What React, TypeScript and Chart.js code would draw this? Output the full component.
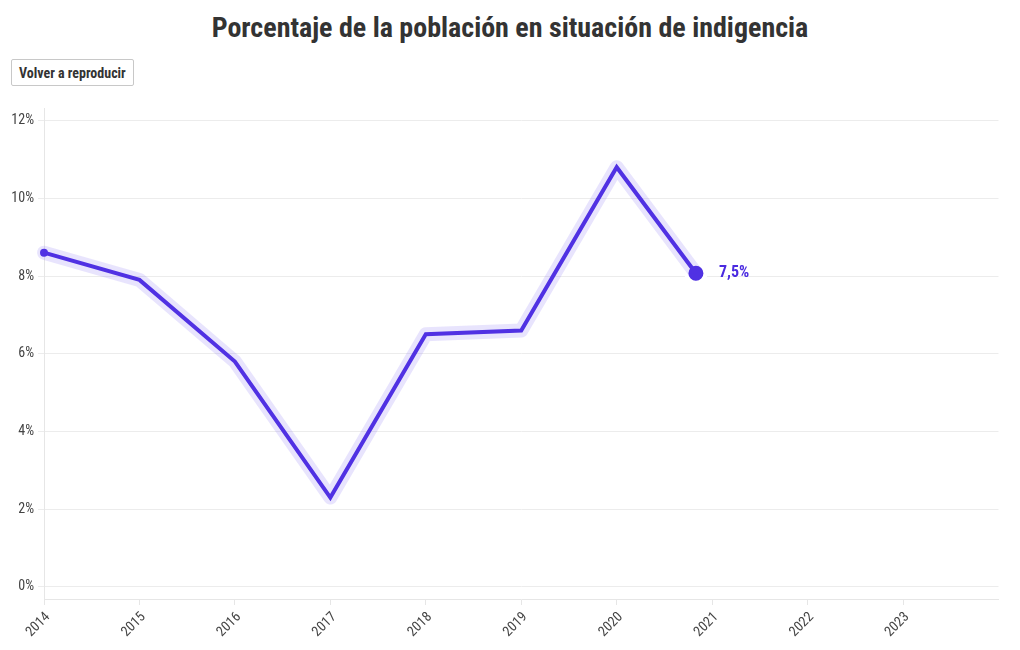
import React, { useEffect, useRef } from "react";
import { Chart, registerables } from "chart.js";

Chart.register(...registerables);

const TITLE = "Porcentaje de la población en situación de indigencia";
const BUTTON_TEXT = "Volver a reproducir";
const years = [2014, 2015, 2016, 2017, 2018, 2019, 2020, 2020.83];
const values = [8.6, 7.9, 5.8, 2.3, 6.5, 6.6, 10.8, 8.07];
const tickYears = [2014, 2015, 2016, 2017, 2018, 2019, 2020, 2021, 2022, 2023];
const yTicks = [0, 2, 4, 6, 8, 10, 12];
const endLabel = "7,5%";

const FONT = '"Roboto Condensed", "Liberation Sans Narrow", "DejaVu Sans Condensed", "Roboto", sans-serif';
const PURPLE = "#4a2ae0";

const endLabelPlugin = {
  id: "endLabel",
  afterDatasetsDraw(chart: any) {
    const meta = chart.getDatasetMeta(2);
    if (!meta || !meta.data.length) return;
    const pt = meta.data[meta.data.length - 1];
    const ctx = chart.ctx;
    ctx.save();
    ctx.font = `bold 16px ${FONT}`;
    ctx.fillStyle = PURPLE;
    ctx.textAlign = "left";
    ctx.textBaseline = "middle";
    ctx.fillText(endLabel, pt.x + 23, pt.y);
    ctx.restore();
  },
};

export default function App() {
  const ref = useRef<HTMLCanvasElement | null>(null);
  useEffect(() => {
    if (!ref.current) return;
    const pts = years.map((x, i) => ({ x, y: values[i] }));
    const last = pts.length - 1;
    const chart = new Chart(ref.current, {
      type: "line",
      data: {
        datasets: [
          {
            data: pts,
            borderColor: "rgba(110,90,240,0.16)",
            borderWidth: 14,
            pointRadius: 0,
            borderJoinStyle: "round",
            borderCapStyle: "round",
            tension: 0,
            clip: false,
          },
          {
            data: pts,
            borderColor: PURPLE,
            borderWidth: 4,
            pointRadius: 0,
            borderJoinStyle: "miter",
            tension: 0,
            clip: false,
          },
          {
            data: pts,
            showLine: false,
            clip: false,
            pointRadius: pts.map((_, i) => (i === 0 ? 4 : i === last ? 9.5 : 0)),
            pointBorderWidth: pts.map((_, i) => (i === last ? 4 : 0)),
            pointBorderColor: "#ffffff",
            pointBackgroundColor: PURPLE,
          },
        ],
      },
      options: {
        animation: false,
        responsive: true,
        maintainAspectRatio: false,
        layout: { padding: { top: 0, right: 12, left: 0, bottom: 0 } },
        plugins: { legend: { display: false }, tooltip: { enabled: false } },
        scales: {
          x: {
            type: "linear",
            min: 2014,
            max: 2024,
            afterBuildTicks: (axis: any) => {
              axis.ticks = tickYears.map((v) => ({ value: v }));
            },
            afterFit: (axis: any) => {
              axis.height = 51;
            },
            grid: {
              drawOnChartArea: false,
              drawTicks: true,
              tickLength: 6,
              color: "#e6e6e6",
            },
            border: { color: "#e6e6e6" },
            ticks: {
              maxRotation: 45,
              minRotation: 45,
              color: "#444",
              font: { family: FONT, size: 14 },
              padding: 4,
              labelOffset: 4,
              callback: (v: any) => String(v),
            },
          },
          y: {
            min: -0.31,
            max: 12.31,
            afterBuildTicks: (axis: any) => {
              axis.ticks = yTicks.map((v) => ({ value: v }));
            },
            afterFit: (axis: any) => {
              axis.width = 36;
            },
            grid: { color: "#ececec", tickLength: 6 },
            border: { color: "#e6e6e6" },
            ticks: {
              color: "#444",
              font: { family: FONT, size: 14 },
              padding: 4,
              callback: (v: any) => `${v}%`,
            },
          },
        },
      },
      plugins: [endLabelPlugin],
    } as any);
    return () => chart.destroy();
  }, []);

  return (
    <div style={{ fontFamily: FONT, width: 1004 }}>
      <div
        style={{
          textAlign: "center",
          fontWeight: "bold",
          fontSize: 28,
          color: "#333",
          lineHeight: "34px",
          marginTop: 3,
        }}
      >
        {TITLE}
      </div>
      <button
        style={{
          marginTop: 14,
          marginLeft: 3,
          height: 27,
          padding: "0 7px",
          fontFamily: FONT,
          fontWeight: "bold",
          fontSize: 14,
          color: "#333",
          background: "#fff",
          border: "1px solid #c8c8c8",
          borderRadius: 2,
        }}
      >
        {BUTTON_TEXT}
      </button>
      <div style={{ position: "absolute", left: 8, top: 95, width: 1004, height: 555 }}>
        <canvas ref={ref} />
      </div>
    </div>
  );
}
